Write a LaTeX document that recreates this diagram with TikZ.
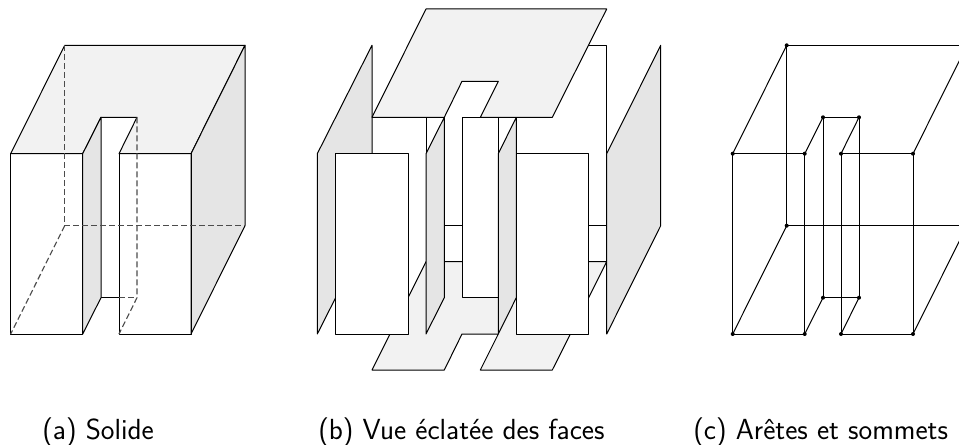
\documentclass[tikz,border=0pt]{standalone}
\definecolor{topgray}{gray}{0.95}
\definecolor{sidegray}{gray}{0.9}
\definecolor{dashgray}{gray}{0.3}
\tikzset{
  edge/.style={line width=0.75pt,line join=round,draw=black},
  topface/.style={edge,fill=topgray},
  sideface/.style={edge,fill=sidegray},
  plainface/.style={edge,fill=white},
  hidden/.style={line width=0.85pt,draw=dashgray,dash pattern=on 4.5pt off 2.25pt},
  caption/.style={font=\sffamily\fontsize{21.8}{26}\selectfont,anchor=base west,inner sep=0pt},
}
\begin{document}
\begin{tikzpicture}[x=0.75pt,y=-0.75pt]
\useasboundingbox (0,0) rectangle (959,445);
\clip (0,0) rectangle (959,445);
% (a) solid
\begin{scope}
  \filldraw[topface] (10.7,153.7) -- (64.7,45.3) -- (245,45.3) -- (191,153.7) -- (119,153.7) -- (137,117.3) -- (101,117.3) -- (82.7,153.7) -- cycle;
  \filldraw[sideface] (191,153.7) -- (245,45.3) -- (245,225.7) -- (191,334) -- cycle;
  \filldraw[sideface] (82.7,153.7) -- (101,117.3) -- (101,297.7) -- (82.7,334) -- cycle;
  \draw[edge] (10.7,153.7) rectangle (82.7,334);
  \draw[edge] (119,153.7) rectangle (191,334);
  \draw[edge] (101,297.7) -- (119,297.7);
  \draw[hidden] (64.7,45.3) -- (64.7,225.7) -- (245,225.7);
  \draw[hidden] (64.7,225.7) -- (10.7,334);
  \draw[hidden] (137,117.3) -- (137,297.7) -- (119,334);
  \draw[hidden] (119,297.7) -- (137,297.7);
\end{scope}
% (b) exploded view
\begin{scope}
  \filldraw[plainface] (426,45.3) rectangle (606.7,225.7);
  \filldraw[topface] (372,370) -- (426,261.7) -- (606.7,261.7) -- (552.3,370) -- (480.3,370) -- (498.3,334) -- (462,334) -- (444.3,370) -- cycle;
  \filldraw[sideface] (317.3,153.7) -- (372,45.3) -- (372,225.7) -- (317.3,334) -- cycle;
  \filldraw[sideface] (606.7,153.7) -- (660.7,45.3) -- (660.7,225.7) -- (606.7,334) -- cycle;
  \filldraw[plainface] (462,117.3) rectangle (498.3,297.7);
  \filldraw[sideface] (426,153.7) -- (444.3,117.3) -- (444.3,297.7) -- (426,334) -- cycle;
  \filldraw[sideface] (498.3,153.7) -- (516.3,117.3) -- (516.3,297.7) -- (498.3,334) -- cycle;
  \filldraw[topface] (372,117.3) -- (426,9) -- (606.7,9) -- (552.3,117.3) -- (480.3,117.3) -- (498.3,81.3) -- (462,81.3) -- (444.3,117.3) -- cycle;
  \filldraw[plainface] (335.7,153.7) rectangle (408,334);
  \filldraw[plainface] (516.3,153.7) rectangle (588.3,334);
\end{scope}
% (c) edges and vertices
\begin{scope}[xshift=541.5pt]
  \foreach \a/\b in {
    10.7/153.7, 82.7/153.7, 119/153.7, 191/153.7,
    10.7/334, 82.7/334, 119/334, 191/334,
    64.7/45.3, 245/45.3, 64.7/225.7, 245/225.7,
    101/117.3, 137/117.3, 101/297.7, 137/297.7}
    {\fill[black] (\a,\b) circle (1.5pt);}
  \draw[edge] (10.7,153.7) rectangle (82.7,334);
  \draw[edge] (119,153.7) rectangle (191,334);
  \draw[edge] (64.7,45.3) rectangle (245,225.7);
  \draw[edge] (101,117.3) rectangle (137,297.7);
  \draw[edge] (10.7,153.7) -- (64.7,45.3);
  \draw[edge] (191,153.7) -- (245,45.3);
  \draw[edge] (10.7,334) -- (64.7,225.7);
  \draw[edge] (191,334) -- (245,225.7);
  \draw[edge] (82.7,153.7) -- (101,117.3);
  \draw[edge] (119,153.7) -- (137,117.3);
  \draw[edge] (82.7,334) -- (101,297.7);
  \draw[edge] (119,334) -- (137,297.7);
\end{scope}
\node[caption] (capa) at (42,439) {(a) Solide};
\node[caption] (capb) at (318,439) {(b) Vue éclatée des faces};
\node[caption] (capc) at (693,439) {(c) Arêtes et sommets};
\end{tikzpicture}
\end{document}
